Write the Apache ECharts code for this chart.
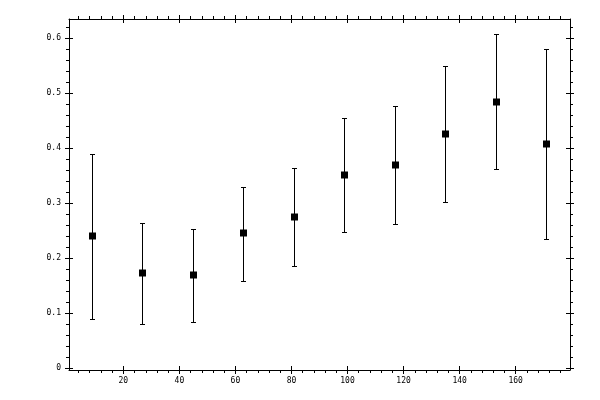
<!DOCTYPE html>
<html>
<head>
<meta charset="utf-8">
<script src="https://cdn.jsdelivr.net/npm/echarts@6/dist/echarts.min.js"></script>
<style>
html, body { margin: 0; padding: 0; background: #fff; }
#chart { width: 600px; height: 400px; }
</style>
</head>
<body>
<div id="chart"></div>
<script>
// bin centres, mean values and the ends of the error bars
var xValues = [9, 27, 45, 63, 81, 99, 117, 135, 153, 171];
var means   = [0.240, 0.173, 0.169, 0.246, 0.275, 0.351, 0.369, 0.426, 0.484, 0.407];
var highs   = [0.390, 0.264, 0.253, 0.330, 0.364, 0.455, 0.476, 0.549, 0.607, 0.580];
var lows    = [0.089, 0.080, 0.084, 0.158, 0.186, 0.247, 0.262, 0.302, 0.362, 0.235];

// tick labels
var xLabels = [20, 40, 60, 80, 100, 120, 140, 160];
var yLabels = [0, 0.1, 0.2, 0.3, 0.4, 0.5, 0.6];

// minor ticks: every 4 on x, every 0.02 on y
var xMinor = [], yMinor = [];
for (var i = 4; i < 180; i += 4) xMinor.push(i);
for (var j = 1; j <= 31; j++) yMinor.push(+(j * 0.02).toFixed(2));

var xMin = 0.6, xMax = 179.4;
var yMin = -0.003, yMax = 0.635;

var black = '#000';
var labelFont = { color: black, fontFamily: 'DejaVu Sans Mono', fontSize: 8 };

// axis with the frame line, small outside ticks and (maybe) labels
function mainAxis(pos, min, max, minor, labels, showLabels, margin) {
    return {
        type: 'value',
        position: pos,
        min: min,
        max: max,
        axisLine: { show: true, onZero: false, lineStyle: { color: black, width: 1 } },
        axisTick: { show: true, inside: false, length: 3, customValues: minor, lineStyle: { color: black, width: 1 } },
        axisLabel: Object.assign({ show: showLabels, customValues: labels, margin: margin }, labelFont),
        splitLine: { show: false }
    };
}
// tick-only axis pushed inward so its long ticks cross the frame
function crossAxis(pos, min, max, majors) {
    return {
        type: 'value',
        position: pos,
        min: min,
        max: max,
        offset: -4,
        axisLine: { show: false, onZero: false },
        axisTick: { show: true, inside: false, length: 8, customValues: majors, lineStyle: { color: black, width: 1 } },
        axisLabel: { show: false },
        splitLine: { show: false }
    };
}

var chart = echarts.init(document.getElementById('chart'));

var barData = [];
for (var k = 0; k < xValues.length; k++) {
    barData.push([xValues[k], means[k], lows[k], highs[k]]);
}

var option = {
    animation: false,
    backgroundColor: '#fff',
    grid: { left: 69, top: 19, width: 501, height: 351 },
    xAxis: [
        mainAxis('bottom', xMin, xMax, xMinor, xLabels, true, 7),
        crossAxis('bottom', xMin, xMax, xLabels),
        mainAxis('top', xMin, xMax, xMinor, xLabels, false, 7),
        crossAxis('top', xMin, xMax, xLabels)
    ],
    yAxis: [
        mainAxis('left', yMin, yMax, yMinor, yLabels, true, 8),
        crossAxis('left', yMin, yMax, yLabels),
        mainAxis('right', yMin, yMax, yMinor, yLabels, false, 8),
        crossAxis('right', yMin, yMax, yLabels)
    ],
    series: [
        {
            // error bar with caps plus the square marker, snapped to whole pixels
            type: 'custom',
            xAxisIndex: 0,
            yAxisIndex: 0,
            data: barData,
            renderItem: function (params, api) {
                var mid = api.coord([api.value(0), api.value(1)]);
                var bot = api.coord([api.value(0), api.value(2)]);
                var top = api.coord([api.value(0), api.value(3)]);
                var x = Math.floor(mid[0]) + 0.5;
                var yt = Math.round(top[1]) + 0.5;
                var yb = Math.round(bot[1]) + 0.5;
                var ym = Math.round(mid[1]);
                var w = 2;
                var style = { stroke: black, lineWidth: 1 };
                return {
                    type: 'group',
                    children: [
                        { type: 'line', shape: { x1: x, y1: yt, x2: x, y2: yb }, style: style },
                        { type: 'line', shape: { x1: x - w - 0.5, y1: yt, x2: x + w + 0.5, y2: yt }, style: style },
                        { type: 'line', shape: { x1: x - w - 0.5, y1: yb, x2: x + w + 0.5, y2: yb }, style: style },
                        { type: 'rect', shape: { x: x - 3.5, y: ym - 3.5, width: 7, height: 7 }, style: { fill: black } }
                    ]
                };
            }
        }
    ]
};

chart.setOption(option);
</script>
</body>
</html>
